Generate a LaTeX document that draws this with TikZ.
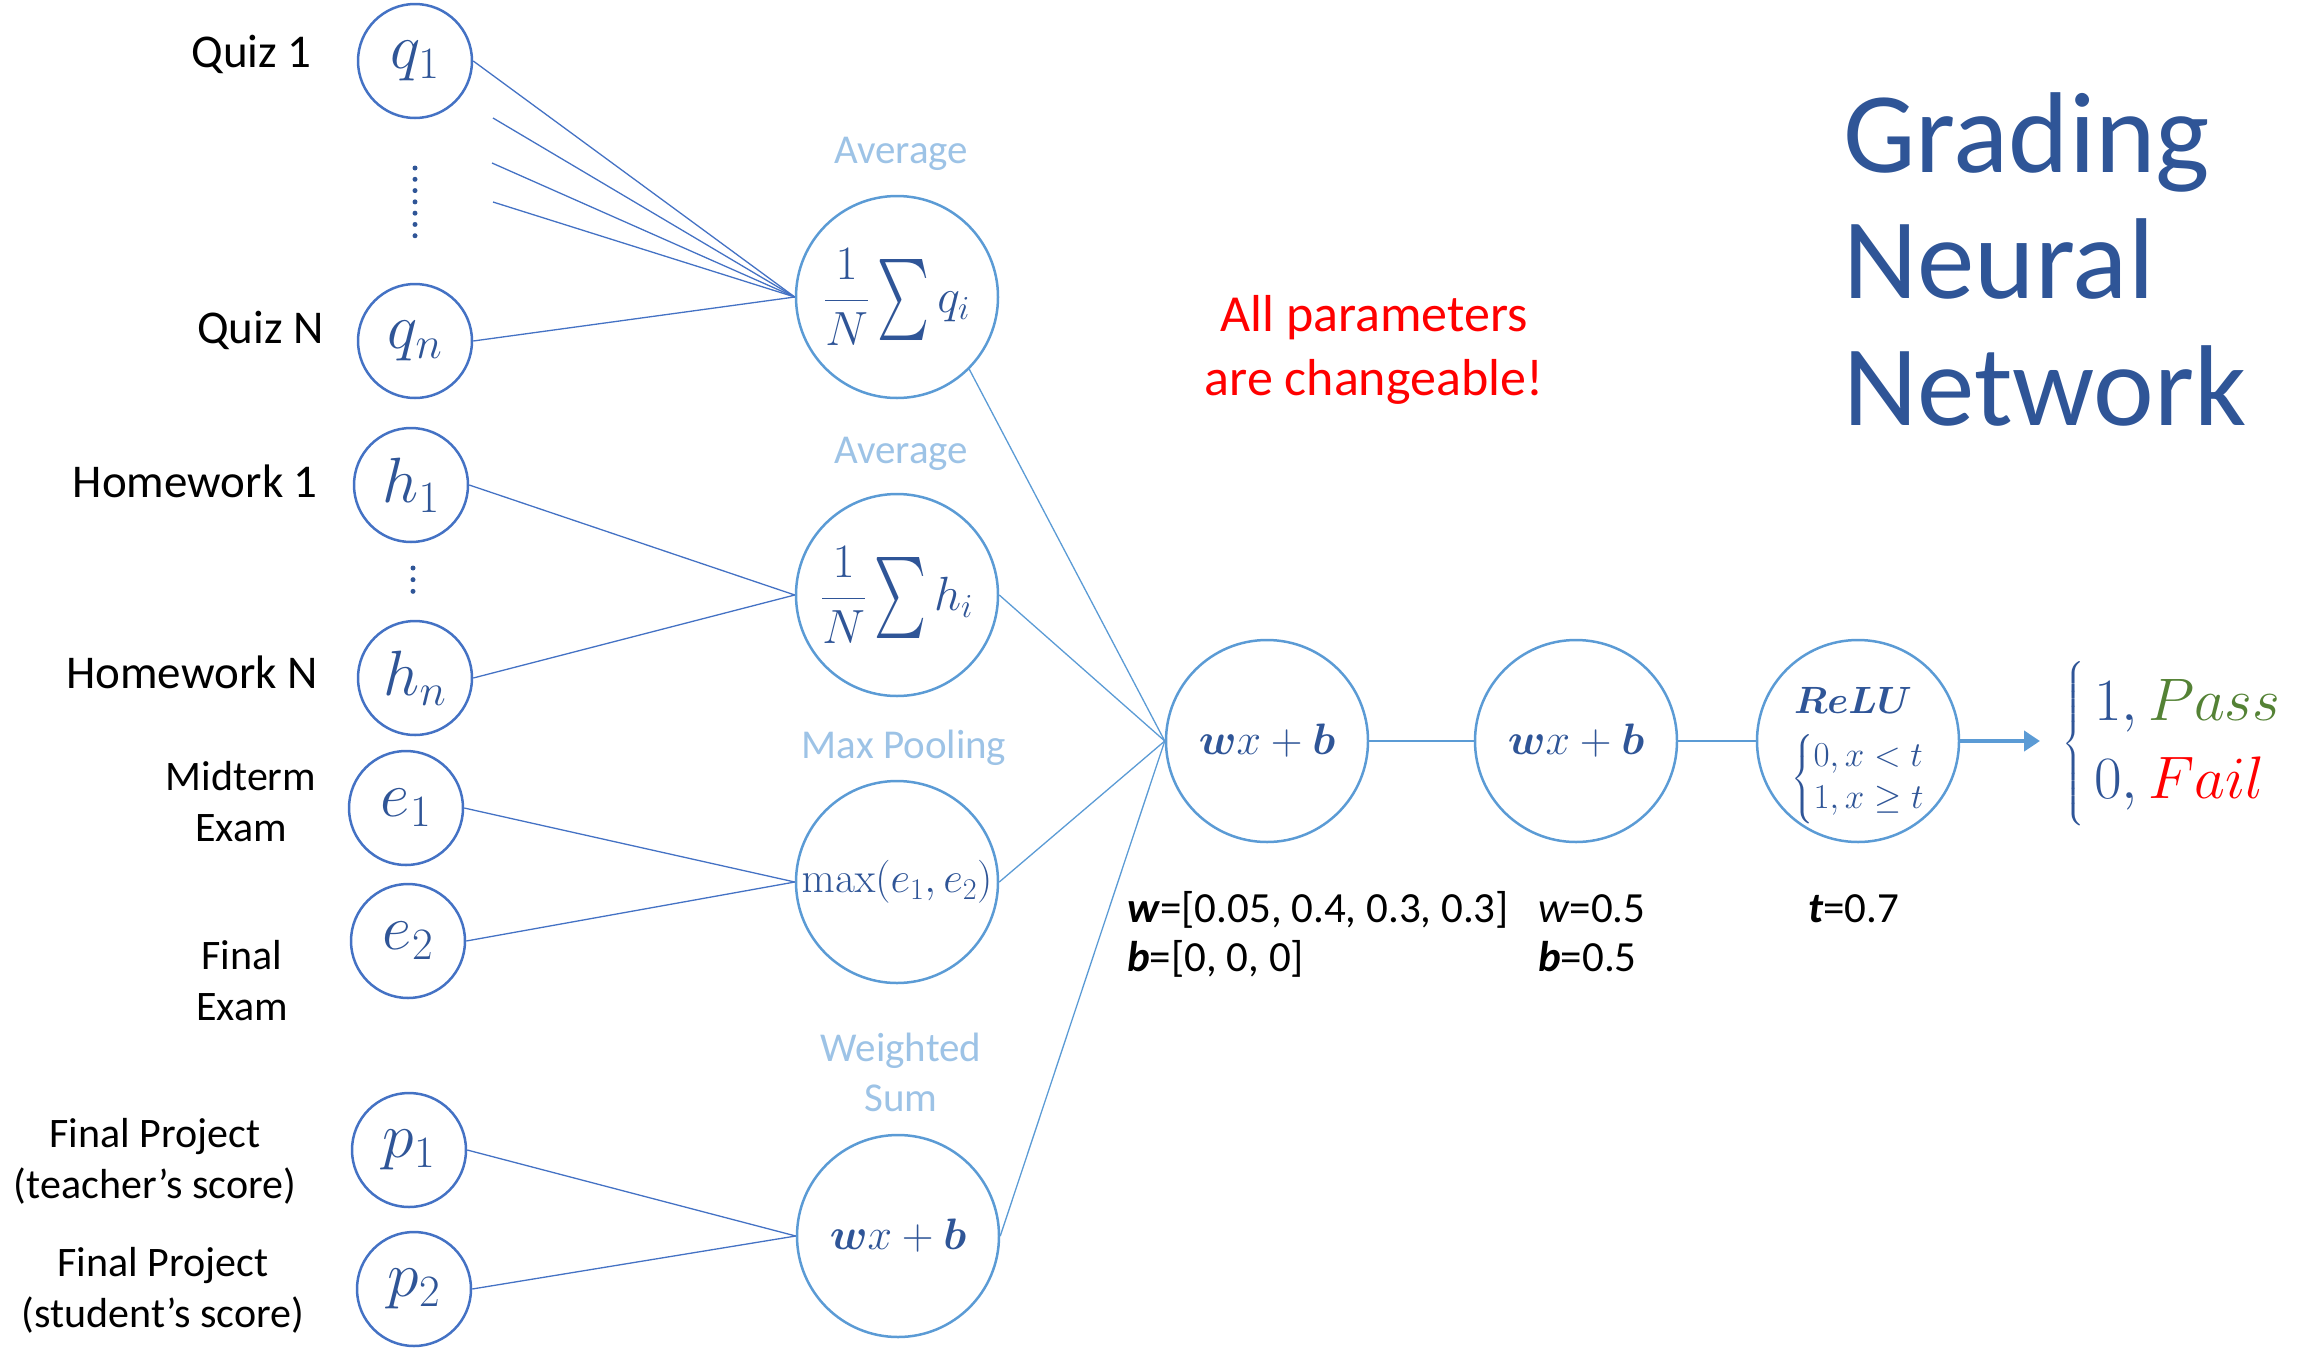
\RequirePackage{fix-cm}
\documentclass[tikz,border=0pt]{standalone}
\usepackage{amsmath,exscale,bm,graphicx}
\usepackage[no-math]{fontspec}
\setmainfont{Carlito}
\usetikzlibrary{arrows.meta}

\definecolor{inblue}{HTML}{4472C4}
\definecolor{lyblue}{HTML}{5B9BD5}
\definecolor{mathblue}{HTML}{2F5597}
\definecolor{tagblue}{HTML}{9DC3E6}
\definecolor{passgreen}{HTML}{548235}
\definecolor{failred}{HTML}{FF0000}

\newcommand\fs[2]{\fontsize{#1}{#2}\selectfont}
% tall, narrow summation sign centred on the math axis
\newcommand\bigsum{\mathop{\vcenter{\hbox{\resizebox*{52pt}{81pt}{$\textstyle\sum$}}}}}

\begin{document}
\begin{tikzpicture}[x=1pt,y=-1pt,
  inp/.style={circle, draw=inblue, line width=2.5pt, minimum size=114pt, inner sep=0pt,
    text=mathblue, font=\fs{64}{70}},
  lay/.style={circle, draw=lyblue, line width=2.5pt, minimum size=202pt, inner sep=0pt,
    text=mathblue},
  lbl/.style={inner sep=0pt, font=\fs{47}{52}},
  lbls/.style={inner sep=0pt, font=\fs{42}{51}, align=center},
  tag/.style={inner sep=0pt, text=tagblue, font=\fs{41}{50}, align=center},
  inln/.style={draw=inblue, line width=1.3pt},
  hidln/.style={draw=lyblue, line width=1.3pt},
  chainln/.style={draw=lyblue, line width=2pt},
  param/.style={inner sep=0pt, font=\fs{43}{50}, anchor=base west},
  dotcol/.style={draw=mathblue, line width=5pt, line cap=round},
]
\useasboundingbox (0,0) rectangle (2305,1347);

% input neurons
\node[inp] (q1) at (415,61)   {$q_1$};
\node[inp] (qn) at (415,341)  {$q_n$};
\node[inp] (h1) at (411,485)  {$h_1$};
\node[inp] (hn) at (415,678)  {$h_n$};
\node[inp] (e1) at (406,808)  {$e_1$};
\node[inp] (e2) at (408,941)  {$e_2$};
\node[inp] (p1) at (409,1150) {$p_1$};
\node[inp] (p2) at (414,1289) {$p_2$};

% elided inputs
\draw[dotcol, dash pattern=on 0pt off 11.29pt] (415,168) -- (415,247);
\draw[dotcol, dash pattern=on 0pt off 11.67pt] (413,568) -- (413,603);

% input names
\node[lbl, anchor=base east] (tq1) at (312,67)  {Quiz 1};
\node[lbl, anchor=base east] (tqn) at (324,343) {Quiz N};
\node[lbl, anchor=base east] (th1) at (318,497) {Homework 1};
\node[lbl, anchor=base east] (thn) at (318,688) {Homework N};
\node[lbls] (te1) at (241,802)  {Midterm\\Exam};
\node[lbls] (te2) at (242,981)  {Final\\Exam};
\node[lbls] (tp1) at (155,1161) {Final Project\\(teacher’s score)};
\node[lbls] (tp2) at (163,1290) {Final Project\\(student’s score)};

% aggregation layer
\node[lay, font=\fs{48}{56}] (avgq) at (897,297)  {$\dfrac{1}{N}\bigsum q_i$};
\node[lay, font=\fs{48}{56}] (avgh) at (897,595)  {$\dfrac{1}{N}\bigsum h_i$};
\node[lay, font=\fs{43}{50}] (mx)   at (897,882)  {$\max(e_1,e_2)$};
\node[lay, font=\fs{44}{52}] (ws)   at (898,1236) {$\bm{w}x+\bm{b}$};

\node[tag] (tavgq) at (901,154)  {Average};
\node[tag] (tavgh) at (901,454)  {Average};
\node[tag] (tmx)   at (904,748)  {Max Pooling};
\node[tag] (tws)   at (901,1072) {Weighted\\Sum};

% output chain
\node[lay, font=\fs{44}{52}] (l3) at (1267,741) {$\bm{w}x+\bm{b}$};
\node[lay, font=\fs{44}{52}] (l4) at (1576,741) {$\bm{w}x+\bm{b}$};
\node[lay] (relu) at (1858,741) {};
\node[inner sep=0pt, anchor=base, text=mathblue, font=\fs{38}{40}] (relut) at (1853,713) {$\bm{ReLU}$};
\node[inner sep=0pt, text=mathblue, font=\fs{35}{42}] (reluc) at (1858,779)
  {$\left\{\begin{array}{@{}l@{}}0,x<t\\1,x\geq t\end{array}\right.$};

\coordinate (out) at (2040,741);
\node[inner sep=0pt, anchor=west, text=mathblue, font=\fs{60}{78}] (res) at (2062,744)
  {$\left\{\,\begin{array}{@{}l@{}}1,\textcolor{passgreen}{Pass}\\0,\textcolor{failred}{Fail}\end{array}\right.$};

% connections into the aggregation layer
\coordinate (qa) at (493,118);
\coordinate (qb) at (492,163);
\coordinate (qc) at (493,202);
\draw[inln] (q1.east) -- (avgq.west);
\draw[inln] (qa) -- (avgq.west);
\draw[inln] (qb) -- (avgq.west);
\draw[inln] (qc) -- (avgq.west);
\draw[inln] (qn.east) -- (avgq.west);
\draw[inln] (h1.east) -- (avgh.west);
\draw[inln] (hn.east) -- (avgh.west);
\draw[inln] (e1.east) -- (mx.west);
\draw[inln] (e2.east) -- (mx.west);
\draw[inln] (p1.east) -- (ws.west);
\draw[inln] (p2.east) -- (ws.west);

% connections into the first dense neuron
\draw[hidln] (avgq.south east) -- (l3.west);
\draw[hidln] (avgh.east) -- (l3.west);
\draw[hidln] (mx.east) -- (l3.west);
\draw[hidln] (ws.east) -- (l3.west);

\draw[chainln] (l3.east) -- (l4.west);
\draw[chainln] (l4.east) -- (relu.west);
\draw[draw=lyblue, line width=4pt, -{Triangle[length=16pt,width=20pt]}] (relu.east) -- (out);

% parameter values
\node[param] (pw3) at (1127,922) {\textbf{\textit{w}}=[0.05, 0.4, 0.3, 0.3]};
\node[param] (pb3) at (1127,971) {\textbf{\textit{b}}=[0, 0, 0]};
\node[param] (pw4) at (1538,922) {\textit{w}=0.5};
\node[param] (pb4) at (1538,971) {\textbf{\textit{b}}=0.5};
\node[param] (pt)  at (1808,922) {\textbf{\textit{t}}=0.7};

% notes and title
\node[inner sep=0pt, align=center, text=failred, font=\fs{52}{64}] (note) at (1374,350)
  {All parameters\\are changeable!};
\node[inner sep=0pt, anchor=base west, text=mathblue, font=\fs{115}{126}] (ttl1) at (1843,172) {Grading};
\node[inner sep=0pt, anchor=base west, text=mathblue, font=\fs{115}{126}] (ttl2) at (1843,298) {Neural};
\node[inner sep=0pt, anchor=base west, text=mathblue, font=\fs{115}{126}] (ttl3) at (1843,425) {Network};
\end{tikzpicture}
\end{document}
